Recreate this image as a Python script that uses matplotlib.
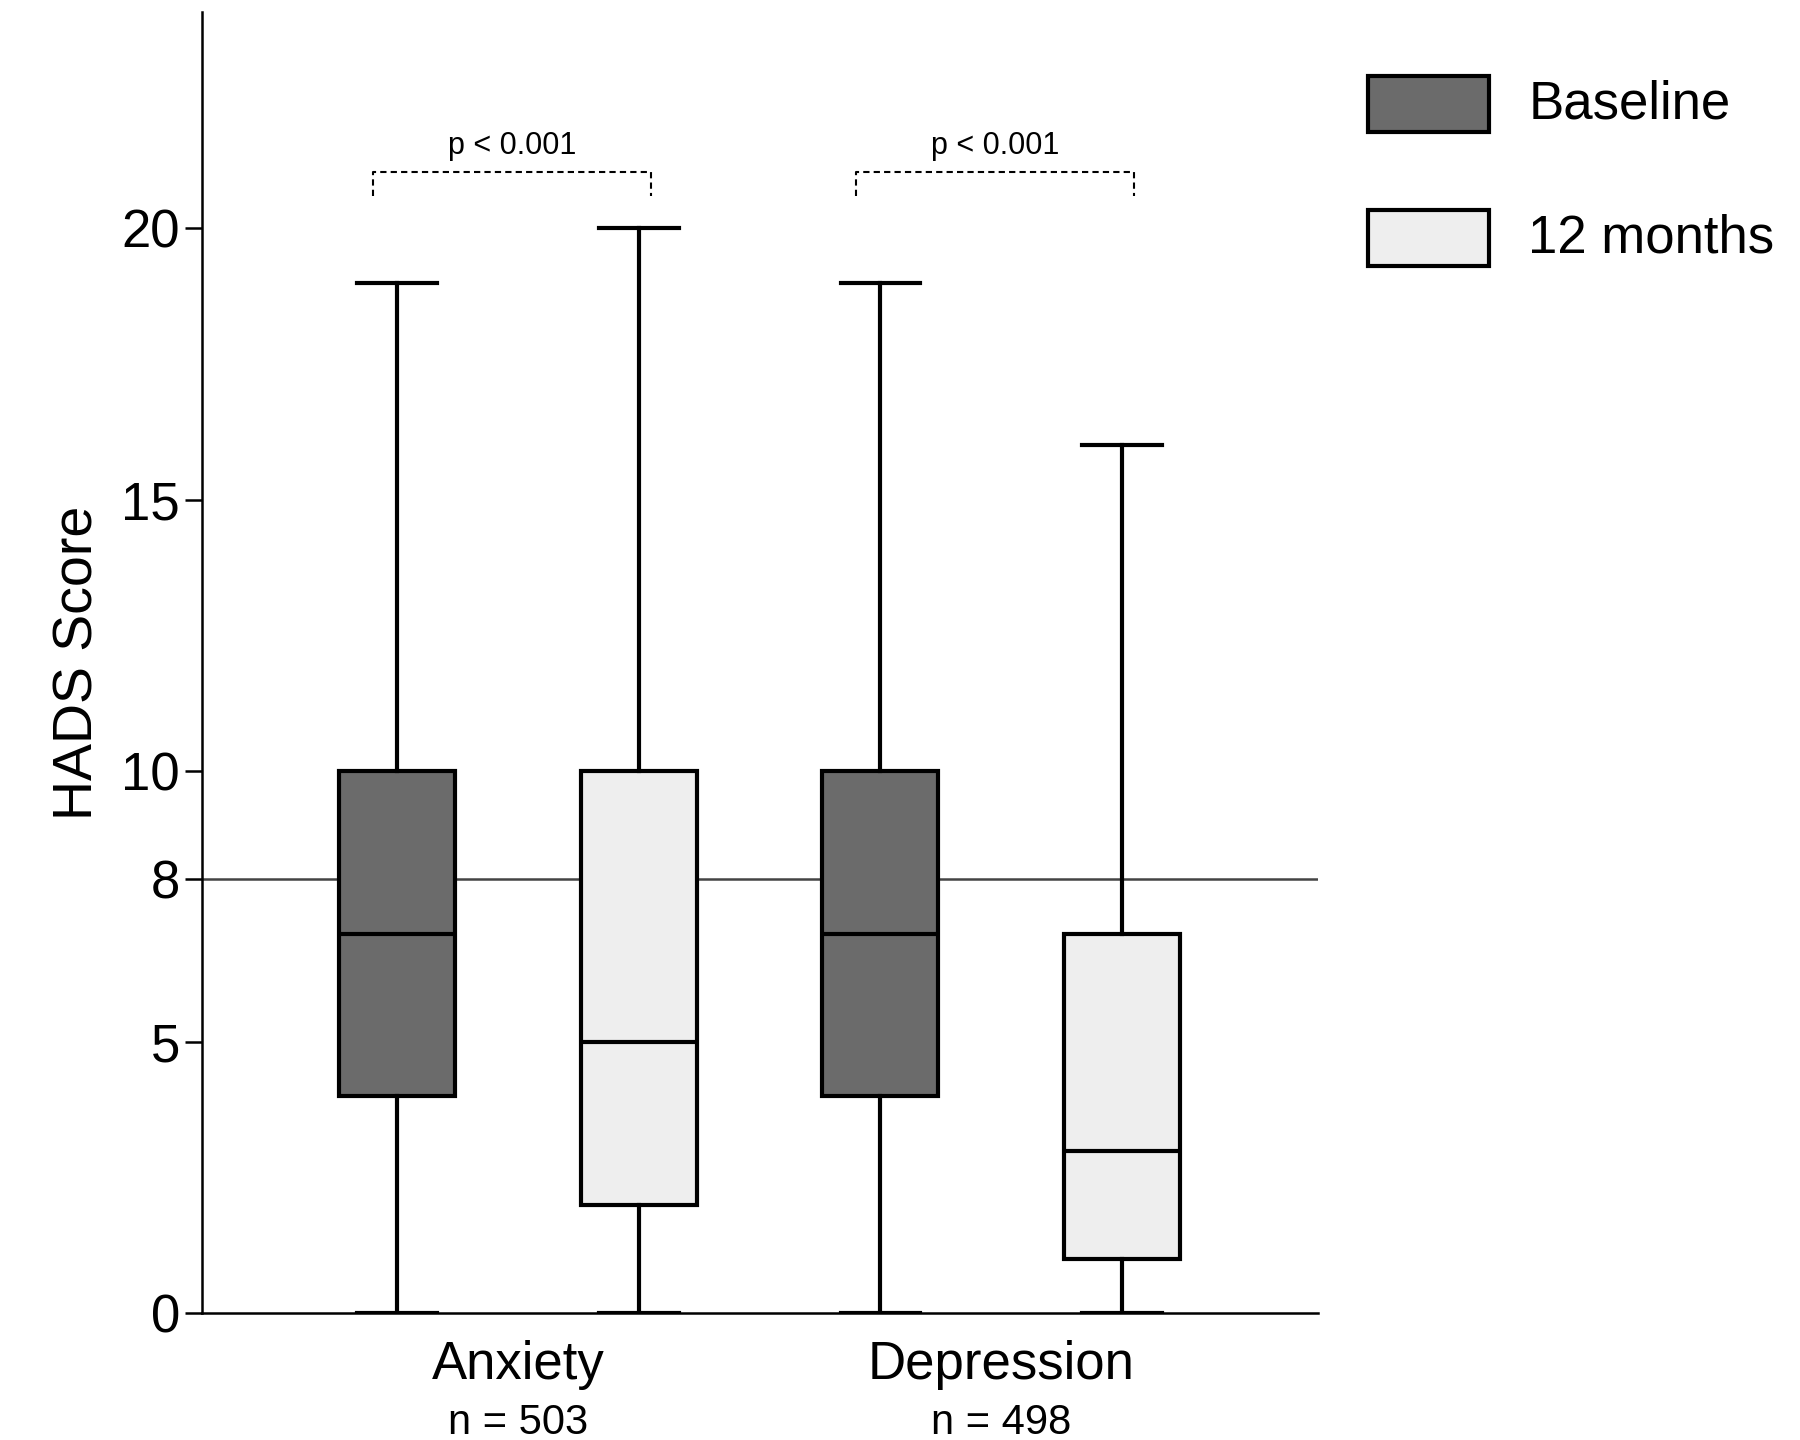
import matplotlib.pyplot as plt
from matplotlib.patches import Rectangle

plt.rcParams['font.family'] = ['Liberation Sans', 'DejaVu Sans']

# valores (min, Q1, mediana, Q3, max)
etiquetas = ['Baseline', '12 months']
grupos = ['Anxiety', 'Depression']
n_grupos = ['n = 503', 'n = 498']
minimos = [0, 0, 0, 0]
q1 = [4, 2, 4, 1]
medianas = [7, 5, 7, 3]
q3 = [10, 10, 10, 7]
maximos = [19, 20, 19, 16]
colores = ['#6b6b6b', '#eeeeee', '#6b6b6b', '#eeeeee']
p_valores = ['p < 0.001', 'p < 0.001']

fig = plt.figure(figsize=(18, 14.4), dpi=100)
ax = fig.add_axes([0.112, 0.088, 0.62, 0.904])

stats = []
for i in range(4):
    stats.append({'whislo': minimos[i], 'q1': q1[i], 'med': medianas[i],
                  'q3': q3[i], 'whishi': maximos[i], 'fliers': []})
pos = [1, 2, 3, 4]
bp = ax.bxp(stats, positions=pos, widths=0.48, patch_artist=True, showfliers=False,
            boxprops=dict(linewidth=3, edgecolor='black'),
            medianprops=dict(color='black', linewidth=3),
            whiskerprops=dict(color='black', linewidth=3),
            capprops=dict(color='black', linewidth=3), capwidths=0.33, zorder=3)
for caja, c in zip(bp['boxes'], colores):
    caja.set_facecolor(c)

ax.axhline(8, color='#444444', linewidth=1.8, zorder=1)

# corchetes con p
for j, (a, b) in enumerate([(1, 2.05), (3, 4.05)]):
    a = a - 0.1
    ax.plot([a, a, b, b], [20.6, 21.05, 21.05, 20.6], color='black', ls=(0, (3, 2)), lw=1.5)
    ax.text((a + b) / 2, 21.25, p_valores[j], ha='center', va='bottom', fontsize=22)

ax.set_xlim(0.19, 4.81)
ax.set_ylim(0, 24)
ax.set_yticks([0, 5, 8, 10, 15, 20])
ax.tick_params(axis='y', labelsize=38, width=1.8, length=12)
ax.set_xticks([])
for lado in ['top', 'right']:
    ax.spines[lado].set_visible(False)
for lado in ['left', 'bottom']:
    ax.spines[lado].set_linewidth(1.8)
ax.set_ylabel('HADS Score', fontsize=40, labelpad=12)

for k, g in enumerate(grupos):
    x = 1.5 + 2 * k
    ax.text(x, -0.5, g, ha='center', va='top', fontsize=38)
    ax.text(x, -1.65, n_grupos[k], ha='center', va='top', fontsize=30)

# leyenda manual
for y, c, t in [(0.908, colores[0], etiquetas[0]), (0.815, colores[1], etiquetas[1])]:
    fig.patches.append(Rectangle((0.760, y), 0.067, 0.039, transform=fig.transFigure,
                                 facecolor=c, edgecolor='black', linewidth=3))
    fig.text(0.849, y + 0.0195, t, fontsize=38, va='center')

fig.savefig('out.png')
